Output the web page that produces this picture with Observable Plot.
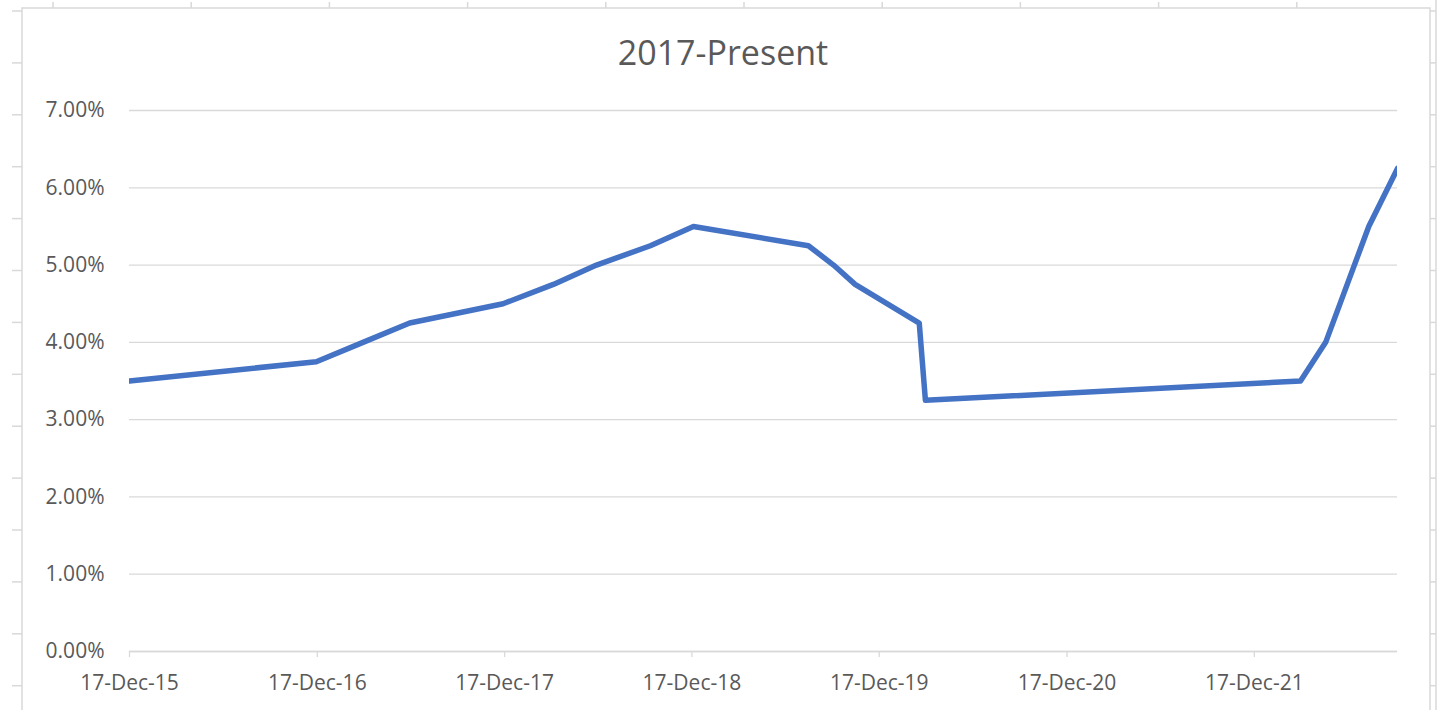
<!DOCTYPE html>
<html>
<head>
<meta charset="utf-8">
<script src="https://cdn.jsdelivr.net/npm/d3@7"></script>
<script src="https://cdn.jsdelivr.net/npm/@observablehq/plot@0.6"></script>
<style>
  html, body { margin: 0; padding: 0; background: #fff; }
  #wrap { position: relative; width: 1442px; height: 710px; overflow: hidden; background: #fff; }
  #deco { position: absolute; left: 0; top: 0; }
  #title { position: relative; height: 90px; box-sizing: border-box; padding-top: 35px; line-height: 34px;
           text-align: center; font-family: "Open Sans", sans-serif; font-size: 34px; color: #595959; padding-left: 4px; }
  #chart { position: relative; }
</style>
</head>
<body>
<div id="wrap">
  <svg id="deco" width="1442" height="710"></svg>
  <div id="title">2017-Present</div>
  <div id="chart"></div>
</div>
<script>
// ---- data (US prime rate changes) ----
const dates = ["2015-12-17","2016-12-15","2017-03-16","2017-06-15","2017-12-14","2018-03-22","2018-06-14","2018-09-27","2018-12-20","2019-08-01","2019-09-19","2019-10-31","2020-03-04","2020-03-16","2022-03-17","2022-05-05","2022-06-16","2022-07-28","2022-09-22"];
const rates = [3.50,3.75,4.00,4.25,4.50,4.75,5.00,5.25,5.50,5.25,5.00,4.75,4.25,3.25,3.50,4.00,4.75,5.50,6.25];
const xTickDates = ["2015-12-17","2016-12-17","2017-12-17","2018-12-17","2019-12-17","2020-12-17","2021-12-17"];
const yTicks = [0,1,2,3,4,5,6,7];
const xDomain = ["2015-12-17","2022-09-22"];

const parse = d3.utcParse("%Y-%m-%d");
const data = dates.map((d, i) => ({date: parse(d), rate: rates[i]}));

// ---- decorative worksheet frame ----
const deco = d3.select("#deco");
const gray = "#d9d9d9";
deco.append("rect").attr("x", 22).attr("y", 8).attr("width", 1408).attr("height", 720)
  .attr("fill", "none").attr("stroke", gray).attr("stroke-width", 1.5);
deco.append("line").attr("x1", 1436).attr("x2", 1436).attr("y1", 0).attr("y2", 710).attr("stroke", gray).attr("stroke-width", 1.5);
for (let y = 11; y < 710; y += 51.9) {
  deco.append("line").attr("x1", 12).attr("x2", 22).attr("y1", y).attr("y2", y).attr("stroke", gray).attr("stroke-width", 1.5);
  deco.append("line").attr("x1", 1430).attr("x2", 1436).attr("y1", y).attr("y2", y).attr("stroke", gray).attr("stroke-width", 1.5);
}
for (let x = 53; x < 1430; x += 138.2) {
  deco.append("line").attr("x1", x).attr("x2", x).attr("y1", 2).attr("y2", 8).attr("stroke", gray).attr("stroke-width", 1.5);
}

// ---- chart ----
const chart = Plot.plot({
  width: 1442,
  height: 620,
  marginLeft: 129,
  marginRight: 45,
  marginTop: 20,
  marginBottom: 59,
  style: {fontFamily: "Open Sans, sans-serif", fontSize: "21px", color: "#595959", background: "transparent", overflow: "visible"},
  x: {type: "utc", domain: xDomain.map(parse)},
  y: {domain: [0, 7]},
  marks: [
    Plot.gridY(yTicks, {stroke: gray, strokeOpacity: 1, strokeWidth: 1.3}),
    Plot.axisY(yTicks, {tickSize: 0, tickPadding: 25, tickFormat: d => d.toFixed(2) + "%", label: null, fill: "#595959"}),
    Plot.axisX(xTickDates.map(parse), {tickSize: 6, tickPadding: 18, stroke: gray, strokeWidth: 1.3, strokeOpacity: 1,
      tickFormat: d3.utcFormat("%-d-%b-%y"), label: null, fill: "#595959"}),
    Plot.ruleY([0], {stroke: gray, strokeWidth: 1.3}),
    Plot.line(data, {x: "date", y: "rate", stroke: "#4472C4", strokeWidth: 5.5, strokeLinejoin: "round", clip: true})
  ]
});
document.getElementById("chart").appendChild(chart);
</script>
</body>
</html>
